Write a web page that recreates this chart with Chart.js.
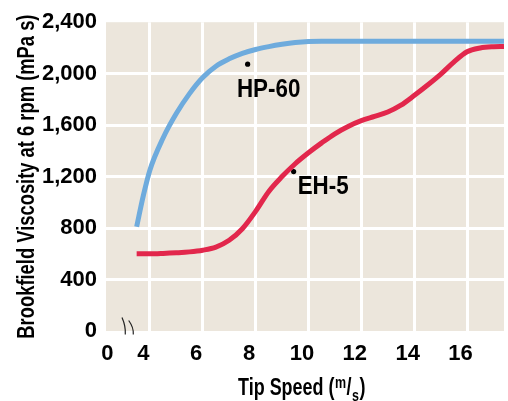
<!DOCTYPE html>
<html>
<head>
<meta charset="utf-8">
<script src="https://cdn.jsdelivr.net/npm/chart.js@4/dist/chart.umd.min.js"></script>
<style>
  html, body { margin: 0; padding: 0; background: #fff; }
  #wrap { width: 508px; height: 401px; position: relative; }
</style>
</head>
<body>
<div id="wrap"><canvas id="chart"></canvas></div>
<script>
// tip speed (m/s) shared by both curves
const tipSpeed = [3.5, 3.75, 4, 4.5, 5, 5.5, 6, 6.5, 7, 7.5, 8, 8.5, 9, 9.5, 10,
  10.5, 11, 11.5, 12, 12.5, 13, 13.5, 14, 14.5, 15, 15.5, 16, 16.5, 17, 17.4];
// Brookfield viscosity at 6 rpm (mPa s)
const hp60 = [810, 1050, 1250, 1500, 1690, 1845, 1970, 2058, 2115, 2158, 2188, 2210, 2228, 2242, 2250,
  2252, 2252, 2252, 2252, 2252, 2252, 2252, 2252, 2252, 2252, 2252, 2252, 2252, 2252, 2252];
const eh5 = [600, 600, 600, 603, 608, 615, 628, 652, 705, 795, 930, 1085, 1200, 1300, 1385,
  1462, 1533, 1590, 1635, 1668, 1702, 1755, 1830, 1910, 1995, 2090, 2170, 2200, 2210, 2212];

// label markers
const markerLabels = ['HP-60', 'EH-5'];
const markerSpeed = [7.7, 9.44];
const markerVisc = [2074, 1239];

// axis ticks (x axis is broken between 0 and 4)
const xTicks = [4, 6, 8, 10, 12, 14, 16];
const zeroTickAt = 2.64;
const yTicks = [0, 400, 800, 1200, 1600, 2000, 2400];

const FONT = '"Liberation Sans", Arial, sans-serif';
const tickFont = { family: FONT, size: 22, weight: 'bold' };
const clear = 'rgba(0,0,0,0)';

function squeezed(ctx, text, x, y, size, sx, align) {
  ctx.save();
  ctx.font = 'bold ' + size + 'px ' + FONT;
  ctx.translate(x, y);
  ctx.scale(sx, 1);
  ctx.textAlign = align || 'left';
  ctx.textBaseline = 'alphabetic';
  ctx.fillText(text, 0, 0);
  ctx.restore();
}

const decor = {
  id: 'decor',
  beforeDraw(chart) {
    const a = chart.chartArea, ctx = chart.ctx;
    ctx.save();
    ctx.fillStyle = '#ECE6DC';
    ctx.fillRect(a.left, a.top, a.right - a.left, a.bottom - a.top);
    ctx.restore();
  },
  afterDraw(chart) {
    const a = chart.chartArea, ctx = chart.ctx;
    ctx.fillStyle = '#000';

    // y title
    ctx.save();
    ctx.translate(34, (a.top + a.bottom) / 2);
    ctx.rotate(-Math.PI / 2);
    ctx.scale(0.765, 1);
    ctx.font = 'bold 24px ' + FONT;
    ctx.textAlign = 'center';
    ctx.fillText('Brookfield Viscosity at 6 rpm (mPa s)', 0, 0);
    ctx.restore();

    // x title with superscript m / subscript s
    const sx = 0.78, base = 395;
    const parts = [['Tip Speed (', 23, 0], ['m', 16, -7], ['/', 23, 0], ['s', 16, 5.5], [')', 23, 0]];
    let total = 0;
    parts.forEach(p => { ctx.font = 'bold ' + p[1] + 'px ' + FONT; total += ctx.measureText(p[0]).width * sx + 0.5; });
    let x = (a.left + a.right) / 2 - 3 - total / 2;
    parts.forEach(p => {
      ctx.font = 'bold ' + p[1] + 'px ' + FONT;
      const w = ctx.measureText(p[0]).width * sx;
      squeezed(ctx, p[0], x, base + p[2], p[1], sx);
      x += w + 0.5;
    });

    // curve labels next to their dots
    const pts = chart.getDatasetMeta(2).data;
    squeezed(ctx, markerLabels[0], pts[0].x - 10.7, pts[0].y + 33.3, 26, 0.86);
    squeezed(ctx, markerLabels[1], pts[1].x + 4, pts[1].y + 22.3, 26, 0.86);

    // axis break marks
    ctx.save();
    ctx.strokeStyle = '#222';
    ctx.lineWidth = 1.2;
    [[a.left + 16, a.left + 19.3], [a.left + 22.7, a.left + 27.3]].forEach((m, i) => {
      const y0 = a.bottom - 13.5 + i * 3, y1 = a.bottom + 3.5;
      ctx.beginPath();
      ctx.moveTo(m[0], y0);
      ctx.quadraticCurveTo(m[1] + 0.5, (y0 + y1) / 2, m[1], y1);
      ctx.stroke();
    });
    ctx.restore();
  }
};

const ctx = document.getElementById('chart').getContext('2d');
const chart = new Chart(ctx, {
  type: 'line',
  data: {
    datasets: [
      {
        label: 'HP-60',
        data: tipSpeed.map((s, i) => ({ x: s, y: hp60[i] })),
        borderColor: '#6EABDD',
        borderWidth: 5,
        pointRadius: 0,
        cubicInterpolationMode: 'monotone'
      },
      {
        label: 'EH-5',
        data: tipSpeed.map((s, i) => ({ x: s, y: eh5[i] })),
        borderColor: '#E2274C',
        borderWidth: 5,
        pointRadius: 0,
        cubicInterpolationMode: 'monotone'
      },
      {
        label: 'markers',
        data: markerSpeed.map((s, i) => ({ x: s, y: markerVisc[i] })),
        showLine: false,
        pointRadius: 2.6,
        pointBorderWidth: 0,
        pointBackgroundColor: '#000'
      }
    ]
  },
  options: {
    responsive: true,
    maintainAspectRatio: false,
    animation: false,
    layout: { padding: { top: 21, right: 0, bottom: 0, left: 0 } },
    plugins: { legend: { display: false }, tooltip: { enabled: false } },
    scales: {
      x: {
        type: 'linear',
        min: 2.34,
        max: 17.4,
        afterBuildTicks: s => { s.ticks = [zeroTickAt].concat(xTicks).map(v => ({ value: v })); },
        afterFit: s => { s.height = 70; },
        ticks: {
          callback: v => v === zeroTickAt ? '0' : String(v),
          labelOffset: -6.5,
          padding: 10,
          autoSkip: false,
          maxRotation: 0,
          color: '#000',
          font: tickFont
        },
        grid: {
          color: c => (c.tick && c.tick.value === zeroTickAt) ? clear : '#fff',
          lineWidth: 3,
          drawTicks: false
        },
        border: { display: false }
      },
      y: {
        min: 0,
        max: 2400,
        afterBuildTicks: s => { s.ticks = yTicks.map(v => ({ value: v })); },
        afterFit: s => { s.width = 106; },
        ticks: {
          callback: v => v.toLocaleString('en-US'),
          padding: 9,
          color: '#000',
          font: tickFont
        },
        grid: {
          color: c => (c.tick && (c.tick.value === 0 || c.tick.value === 2400)) ? clear : '#fff',
          lineWidth: 3,
          drawTicks: false
        },
        border: { display: false }
      }
    }
  },
  plugins: [decor]
});
</script>
</body>
</html>
